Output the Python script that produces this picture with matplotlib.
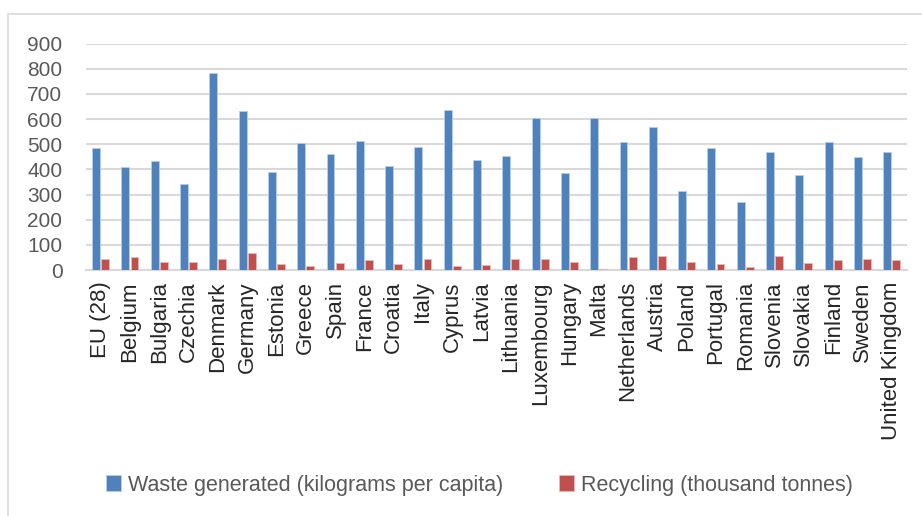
import numpy as np
import matplotlib
matplotlib.use("Agg")
import matplotlib.pyplot as plt
from matplotlib.patches import Rectangle

# --------------------------------------------------
# Data
# --------------------------------------------------

countries = [
    "EU (28)", "Belgium", "Bulgaria", "Czechia", "Denmark", "Germany",
    "Estonia", "Greece", "Spain", "France", "Croatia", "Italy", "Cyprus",
    "Latvia", "Lithuania", "Luxembourg", "Hungary", "Malta", "Netherlands",
    "Austria", "Poland", "Portugal", "Romania", "Slovenia", "Slovakia",
    "Finland", "Sweden", "United Kingdom",
]

waste_generated = [
    487, 410, 435, 344, 782, 634, 389, 504, 460, 513, 414, 488, 637, 438,
    454, 605, 385, 603, 511, 570, 313, 487, 269, 469, 377, 508, 451, 468,
]

recycling = [
    45, 50, 33, 33, 44, 66, 25, 17, 29, 40, 23, 45, 15, 20,
    45, 45, 32, 5, 53, 56, 32, 24, 12, 56, 27, 38, 45, 41,
]

yticks = [0, 100, 200, 300, 400, 500, 600, 700, 800, 900]

# --------------------------------------------------
# Figure
# --------------------------------------------------

plt.rcParams["font.family"] = ["Liberation Sans", "DejaVu Sans"]

fig = plt.figure(figsize=(9.22, 5.16), dpi=100)
ax = fig.add_axes([0.0933, 0.4767, 0.8904, 0.4386])

# chart frame
fig.patches.append(Rectangle((8 / 922, -0.1), 1.2, (516 - 14) / 516 + 0.1,
                             transform=fig.transFigure, fill=False,
                             edgecolor="#d9d9d9", linewidth=1.2))

x = np.arange(len(countries))
w = 0.27

ax.bar(x - w / 2 - 0.02, waste_generated, width=w, color="#4f81bd",
       edgecolor="#b9cde5", linewidth=0.6,
       label="Waste generated (kilograms per capita)", zorder=3)
ax.bar(x + w / 2 + 0.02, recycling, width=w, color="#c0504d",
       edgecolor="#e6b9b8", linewidth=0.6,
       label="Recycling (thousand tonnes)", zorder=3)

ax.set_ylim(0, 900)
ax.set_xlim(-0.5, len(countries) - 0.5 + 0.02)
ax.set_yticks(yticks)
ax.set_yticklabels([str(v) for v in yticks], fontsize=15, color="#595959")
ax.set_xticks(x)
ax.set_xticklabels(countries, rotation=90, fontsize=16, color="#262626")
ax.tick_params(axis="both", length=0)
ax.tick_params(axis="x", pad=8)
ax.tick_params(axis="y", pad=17)

ax.grid(axis="y", color="#d9d9d9", linewidth=1.5, zorder=0)
for side in ["top", "right", "left"]:
    ax.spines[side].set_visible(False)
ax.spines["bottom"].set_color("#d9d9d9")
ax.spines["bottom"].set_linewidth(1.5)

fig.legend(loc="center", bbox_to_anchor=(0.52, 0.06), ncol=2, frameon=False,
           fontsize=15.5, handlelength=0.7, handleheight=0.7,
           handletextpad=0.3, columnspacing=2.6, labelcolor="#595959")

plt.savefig("out.png", dpi=100)
plt.close()

print("Figure Saved.")
